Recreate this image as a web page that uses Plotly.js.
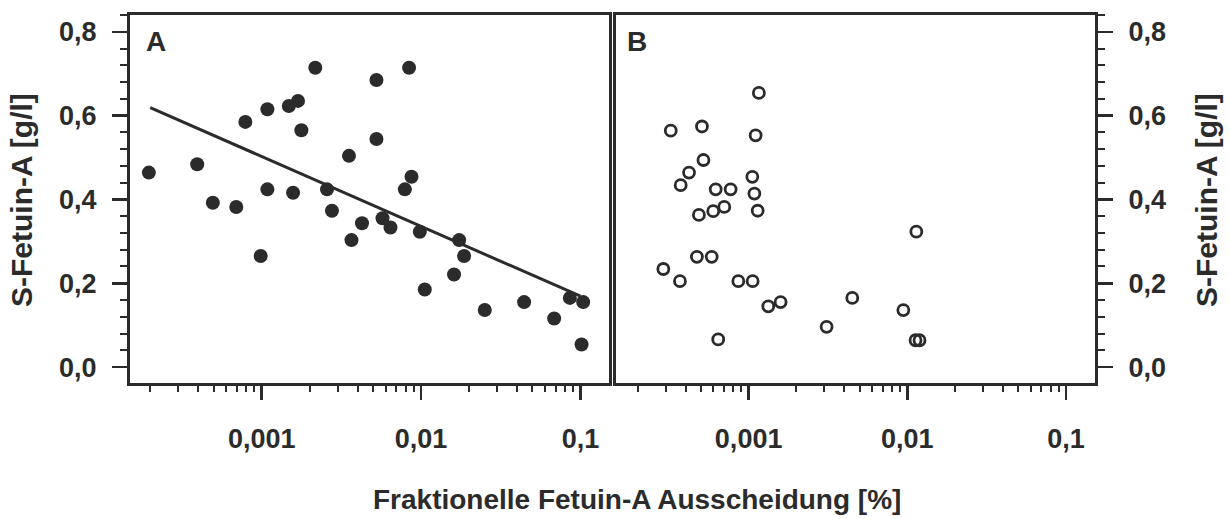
<!DOCTYPE html>
<html>
<head>
<meta charset="utf-8">
<script src="https://cdn.plot.ly/plotly-3.0.1.min.js"></script>
<style>html,body{margin:0;padding:0;background:#fff;}#chart{width:1230px;height:519px;}</style>
</head>
<body>
<div id="chart"></div>
<script>
// Panel A: filled circles
const xA = [0.000196, 0.000394, 0.000494, 0.000693, 0.000790, 0.000986, 0.001086, 0.001086,
            0.00148, 0.001574, 0.00169, 0.001775, 0.00217, 0.00257, 0.00276, 0.00353, 0.00366,
            0.00426, 0.00525, 0.00525, 0.00573, 0.00643, 0.00791, 0.00841, 0.00871, 0.00982,
            0.01055, 0.0161, 0.01734, 0.01862, 0.0251, 0.0443, 0.0684, 0.0858, 0.1016, 0.104];
const yA = [0.464, 0.484, 0.392, 0.382, 0.585, 0.265, 0.615, 0.424,
            0.623, 0.416, 0.635, 0.565, 0.714, 0.424, 0.373, 0.504, 0.303,
            0.343, 0.685, 0.544, 0.355, 0.333, 0.424, 0.714, 0.454, 0.323,
            0.185, 0.221, 0.303, 0.265, 0.136, 0.155, 0.116, 0.165, 0.054, 0.155];
// Panel A: regression line end points
const lineX = [0.0002, 0.1];
const lineY = [0.619, 0.169];
// Panel B: open circles
const xB = [0.00029, 0.000323, 0.000369, 0.000373, 0.000421, 0.000472, 0.000486, 0.000508,
            0.000519, 0.000585, 0.000598, 0.00062, 0.000643, 0.000702, 0.00077, 0.000861,
            0.001055, 0.00106, 0.001087, 0.001107, 0.00114, 0.00116, 0.00133, 0.00159,
            0.0031, 0.0045, 0.00944, 0.0114, 0.01127, 0.01194];
const yB = [0.234, 0.564, 0.205, 0.434, 0.464, 0.263, 0.363, 0.574,
            0.494, 0.263, 0.372, 0.424, 0.066, 0.382, 0.424, 0.205,
            0.454, 0.205, 0.414, 0.553, 0.373, 0.654, 0.145, 0.155,
            0.096, 0.165, 0.136, 0.323, 0.064, 0.064];

const xTickVals = [0.001, 0.01, 0.1];
const xTickText = ['0,001', '0,01', '0,1'];
const yTickVals = [0, 0.2, 0.4, 0.6, 0.8];
const yTickText = ['0,0', '0,2', '0,4', '0,6', '0,8'];
const yTitle = 'S-Fetuin-A [g/l]';
const xTitle = 'Fraktionelle Fetuin-A Ausscheidung [%]';
const panelLabels = ['A', 'B'];

const ink = '#2b2b2b';
const FAM = 'Liberation Sans, Arial, sans-serif';
const W = 1230, H = 519;

// minor tick positions on the log axes (2..9 of each decade)
const minorX = [];
[0.0001, 0.001, 0.01].forEach(d => { for (let k = 2; k <= 9; k++) minorX.push(+(d * k).toPrecision(3)); });

const traces = [
  { x: xA, y: yA, xaxis: 'x', yaxis: 'y', mode: 'markers', type: 'scatter',
    marker: { size: 14, color: ink, line: { width: 0 } }, hoverinfo: 'skip' },
  { x: lineX, y: lineY, xaxis: 'x', yaxis: 'y', mode: 'lines', type: 'scatter',
    line: { color: ink, width: 3 }, hoverinfo: 'skip' },
  { x: xB, y: yB, xaxis: 'x2', yaxis: 'y2', mode: 'markers', type: 'scatter',
    marker: { symbol: 'circle-open', size: 11, color: ink, line: { width: 2.8, color: ink } }, hoverinfo: 'skip' }
];

const tickFont = { family: FAM, size: 27, color: ink, weight: 'bold' };

function xAx(domain, range, anchor) {
  return {
    type: 'log', domain: domain, range: range, anchor: anchor,
    showline: true, mirror: true, linecolor: ink, linewidth: 3,
    showgrid: false, zeroline: false,
    tickmode: 'array', tickvals: xTickVals, ticktext: xTickText,
    ticks: 'outside', ticklen: 14, tickwidth: 2.5, tickcolor: ink,
    ticklabelstandoff: 16,
    tickfont: tickFont,
    minor: { tickmode: 'array', tickvals: minorX, ticks: 'outside', ticklen: 6, tickwidth: 2, tickcolor: ink, showgrid: false }
  };
}
function yAx(domain, anchor, side) {
  return {
    domain: domain, range: [-0.038, 0.84], anchor: anchor, side: side,
    showline: true, mirror: true, linecolor: ink, linewidth: 3,
    showgrid: false, zeroline: false,
    tickmode: 'array', tickvals: yTickVals, ticktext: yTickText,
    ticks: 'outside', ticklen: 15, tickwidth: 2.5, tickcolor: ink,
    ticklabelstandoff: 10,
    tickfont: tickFont,
    minor: { dtick: 0.04, tick0: 0, ticks: 'outside', ticklen: 7, tickwidth: 2, tickcolor: ink, showgrid: false }
  };
}

const yDom = [(H - 383) / H, (H - 15) / H];

const layout = {
  width: W, height: H,
  margin: { l: 0, r: 0, t: 0, b: 0, pad: 0 },
  paper_bgcolor: '#ffffff', plot_bgcolor: '#ffffff',
  showlegend: false,
  xaxis: xAx([130 / W, 609 / W], [-3.826, -0.821], 'y'),
  xaxis2: xAx([616 / W, 1095 / W], [-3.836, -0.817], 'y2'),
  yaxis: yAx(yDom, 'x', 'left'),
  yaxis2: yAx(yDom, 'x2', 'right'),
  annotations: [
    { text: panelLabels[0], xref: 'paper', yref: 'paper', x: 144 / W, y: (H - 42) / H,
      xanchor: 'left', yanchor: 'middle', showarrow: false,
      font: { family: FAM, size: 28, color: ink, weight: 'bold' } },
    { text: panelLabels[1], xref: 'paper', yref: 'paper', x: 625 / W, y: (H - 42) / H,
      xanchor: 'left', yanchor: 'middle', showarrow: false,
      font: { family: FAM, size: 28, color: ink, weight: 'bold' } },
    { text: xTitle, xref: 'paper', yref: 'paper', x: 637 / W, y: (H - 499) / H,
      xanchor: 'center', yanchor: 'middle', showarrow: false,
      font: { family: FAM, size: 28, color: ink, weight: 'bold' } },
    { text: yTitle, xref: 'paper', yref: 'paper', x: 22 / W, y: (H - 200) / H, textangle: -90,
      xanchor: 'center', yanchor: 'middle', showarrow: false,
      font: { family: FAM, size: 30, color: ink, weight: 'bold' } },
    { text: yTitle, xref: 'paper', yref: 'paper', x: 1207 / W, y: (H - 200) / H, textangle: -90,
      xanchor: 'center', yanchor: 'middle', showarrow: false,
      font: { family: FAM, size: 30, color: ink, weight: 'bold' } }
  ]
};

Plotly.newPlot('chart', traces, layout, { staticPlot: true, displayModeBar: false });
</script>
</body>
</html>
